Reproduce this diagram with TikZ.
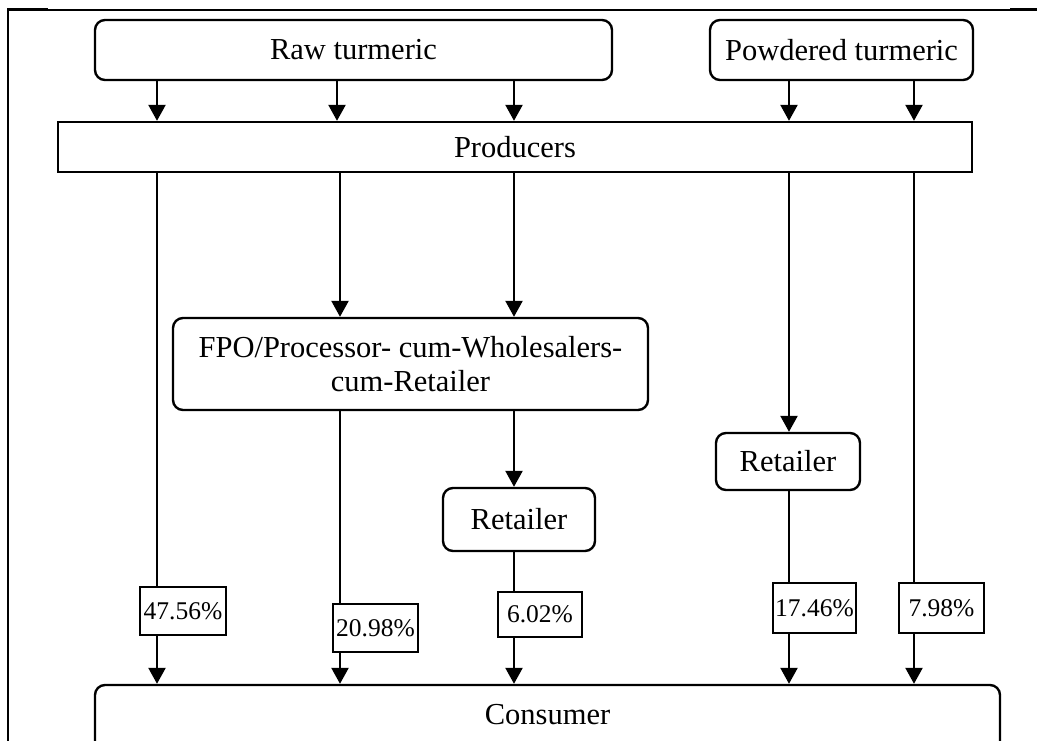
\documentclass[tikz,border=0pt]{standalone}
\usepackage{fontspec}
\setmainfont{Liberation Serif}
\usetikzlibrary{arrows.meta}
\begin{document}
\begin{tikzpicture}[x=1pt,y=-1pt,
  every node/.style={font=\fontsize{30.5}{34}\selectfont, text=black},
  rbox/.style={draw, line width=2.4pt, rounded corners=10pt, inner sep=0pt, align=center},
  sbox/.style={draw, line width=2.4pt, inner sep=0pt, align=center},
  pbox/.style={draw, line width=2.2pt, fill=white, inner sep=0pt,
    font=\fontsize{25.5}{28}\selectfont},
  flow/.style={line width=2.4pt, -{Triangle[length=16pt,width=17pt]}},
  link/.style={line width=2.4pt}]
\useasboundingbox (0,0) rectangle (1037,740);

% page rule framing the chart
\draw[line width=2.2pt] (8,745) -- (8,10) -- (1037,10);
\draw[line width=3.4pt] (7,9.5) -- (48,9.5);
\draw[line width=3.4pt] (1010,9.5) -- (1037,9.5);

% column positions of the flows
\coordinate (a1) at (157,0);
\coordinate (a2) at (337,0);
\coordinate (b2) at (340,0);
\coordinate (a3) at (514,0);
\coordinate (a4) at (789,0);
\coordinate (a5) at (914,0);

% boxes
\node[rbox, minimum width=517pt, minimum height=60pt] (raw) at (353.5,50) {Raw turmeric};
\node[rbox, minimum width=263pt, minimum height=60pt] (powd) at (841.5,50) {Powdered turmeric};
\node[sbox, minimum width=914pt, minimum height=50pt] (prod) at (515,147) {Producers};
\node[rbox, minimum width=475pt, minimum height=92pt] (fpo) at (410.5,364)
  {FPO/Processor- cum-Wholesalers-\\cum-Retailer};
\node[rbox, minimum width=152pt, minimum height=63pt] (ret1) at (519,519.5) {Retailer};
\node[rbox, minimum width=144pt, minimum height=57pt] (ret2) at (788,461.5) {Retailer};
\node[rbox, minimum width=905pt, minimum height=75pt, text depth=17pt] (cons) at (547.5,722.5) {Consumer};

% share labels
\node[pbox, minimum width=86pt, minimum height=48pt] (p1) at (183,611) {47.56\%};
\node[pbox, minimum width=85pt, minimum height=48pt] (p2) at (375.5,628) {20.98\%};
\node[pbox, minimum width=84pt, minimum height=45pt] (p3) at (540,614.5) {6.02\%};
\node[pbox, minimum width=83pt, minimum height=50pt] (p4) at (814.5,608) {17.46\%};
\node[pbox, minimum width=85pt, minimum height=50pt] (p5) at (941.5,608) {7.98\%};

% supply into producers
\draw[flow] (raw.south -| a1) -- (prod.north -| a1);
\draw[flow] (raw.south -| a2) -- (prod.north -| a2);
\draw[flow] (raw.south -| a3) -- (prod.north -| a3);
\draw[flow] (powd.south -| a4) -- (prod.north -| a4);
\draw[flow] (powd.south -| a5) -- (prod.north -| a5);

% channel I: producer to consumer
\draw[link] (prod.south -| a1) -- (p1.north -| a1);
\draw[flow] (p1.south -| a1) -- (cons.north -| a1);

% channel II: producer - FPO - consumer
\draw[flow] (prod.south -| b2) -- (fpo.north -| b2);
\draw[link] (fpo.south -| b2) -- (p2.north -| b2);
\draw[flow] (p2.south -| b2) -- (cons.north -| b2);

% channel III: producer - FPO - retailer - consumer
\draw[flow] (prod.south -| a3) -- (fpo.north -| a3);
\draw[flow] (fpo.south -| a3) -- (ret1.north -| a3);
\draw[link] (ret1.south -| a3) -- (p3.north -| a3);
\draw[flow] (p3.south -| a3) -- (cons.north -| a3);

% channel IV: producer - retailer - consumer
\draw[flow] (prod.south -| a4) -- (ret2.north -| a4);
\draw[link] (ret2.south -| a4) -- (p4.north -| a4);
\draw[flow] (p4.south -| a4) -- (cons.north -| a4);

% channel V: powdered turmeric straight to consumer
\draw[link] (prod.south -| a5) -- (p5.north -| a5);
\draw[flow] (p5.south -| a5) -- (cons.north -| a5);
\end{tikzpicture}
\end{document}
